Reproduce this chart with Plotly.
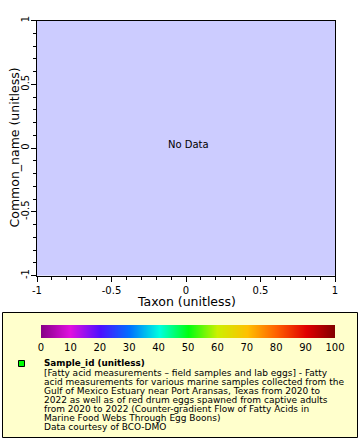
import plotly.graph_objects as go

W, H = 360, 440

# ---- data ----
x_ticks = [-1, -0.5, 0, 0.5, 1]
y_ticks = [-1, -0.5, 0, 0.5, 1]
x_tick_labels = ["-1", "-0.5", "0", "0.5", "1"]
y_tick_labels = ["-1", "-0.5", "0", "0.5", "1"]
sample_x = []          # no data
sample_y = []
sample_id = []
cbar_ticks = [0, 10, 20, 30, 40, 50, 60, 70, 80, 90, 100]
x_title = "Taxon (unitless)"
y_title = "Common_name (unitless)"
legend_title = "Sample_id (unitless)"
legend_lines = [
    "[Fatty acid measurements \u2013 field samples and lab eggs] - Fatty",
    "acid measurements for various marine samples collected from the",
    "Gulf of Mexico Estuary near Port Aransas, Texas from 2020 to",
    "2022 as well as of red drum eggs spawned from captive adults",
    "from 2020 to 2022 (Counter-gradient Flow of Fatty Acids in",
    "Marine Food Webs Through Egg Boons)",
    "Data courtesy of BCO-DMO",
]

colorscale = [
    [0.0, "#880088"], [0.1, "#e010e0"], [0.2, "#4c10ff"], [0.3, "#0070ff"],
    [0.4, "#00ffe0"], [0.5, "#00ff10"], [0.6, "#ccf000"], [0.7, "#ffc000"],
    [0.8, "#ff6000"], [0.9, "#e00000"], [1.0, "#800000"],
]

FONT = "DejaVu Sans"

def px(xp):
    return xp / W

def py(yp):
    return 1 - yp / H

fig = go.Figure()

# empty data series
fig.add_trace(go.Scatter(
    x=sample_x, y=sample_y, mode="markers",
    marker=dict(color=sample_id, cmin=cbar_ticks[0], cmax=cbar_ticks[-1],
                colorscale=colorscale),
    showlegend=False, hoverinfo="skip", xaxis="x", yaxis="y",
))

# colour scale strip
fig.add_trace(go.Heatmap(
    z=[cbar_ticks], x=cbar_ticks, y=[0], zmin=cbar_ticks[0], zmax=cbar_ticks[-1],
    colorscale=colorscale, zsmooth="best", showscale=False,
    hoverinfo="skip", xaxis="x2", yaxis="y2",
))

axis_common = dict(
    range=[-1, 1], showgrid=False, zeroline=False, showline=True,
    linecolor="black", linewidth=1, mirror=True, ticks="outside",
    ticklen=5, tickcolor="black", tickmode="array", automargin=False,
    tickfont=dict(family=FONT, size=10, color="black"),
    minor=dict(dtick=0.1, ticks="outside", ticklen=3, tickcolor="black", showgrid=False),
)

fig.update_layout(
    width=W, height=H, autosize=False, margin=dict(l=0, r=0, t=0, b=0, pad=0),
    paper_bgcolor="white", plot_bgcolor="#ccccff",
    font=dict(family=FONT, color="black"),
    xaxis=dict(axis_common, domain=[px(37), px(335)], tickvals=x_ticks,
               ticktext=x_tick_labels),
    yaxis=dict(axis_common, domain=[py(275.5), py(20.5)], tickvals=y_ticks,
               ticktext=y_tick_labels, tickangle=-90, ticklabelstandoff=-2),
    xaxis2=dict(domain=[px(41), px(335)], range=[cbar_ticks[0], cbar_ticks[-1]],
                anchor="y2", showgrid=False, zeroline=False, showline=False,
                ticks="", tickmode="array", tickvals=cbar_ticks, automargin=False,
                ticktext=[str(v) for v in cbar_ticks], ticklabelstandoff=2,
                tickfont=dict(family=FONT, size=10, color="black"), fixedrange=True),
    yaxis2=dict(domain=[py(338), py(325)], range=[-0.5, 0.5], anchor="x2",
                visible=False, fixedrange=True, automargin=False),
    showlegend=False,
)

# axis titles
fig.add_annotation(x=px(186), y=py(301.5), xref="paper", yref="paper", text=x_title,
                   showarrow=False, xanchor="center", yanchor="middle",
                   font=dict(family=FONT, size=12.5, color="black"))
fig.add_annotation(x=px(13.5), y=py(148), xref="paper", yref="paper", text=y_title,
                   showarrow=False, xanchor="center", yanchor="middle", textangle=-90,
                   font=dict(family=FONT, size=12.5, color="black"))

# "No Data" label
fig.add_annotation(x=0, y=0, xref="x", yref="y", text="No Data", showarrow=False,
                   yshift=4, xshift=2, font=dict(family=FONT, size=10, color="black"))

# legend box
fig.add_shape(type="rect", xref="paper", yref="paper",
              x0=px(2.5), x1=px(357.5), y0=py(437.5), y1=py(312.5),
              fillcolor="#ffffcc", line=dict(color="black", width=1), layer="below")
# legend marker
fig.add_shape(type="rect", xref="paper", yref="paper",
              x0=px(18.5), x1=px(24.5), y0=py(366.5), y1=py(360.5),
              fillcolor="#00ff00", line=dict(color="black", width=1))

fig.add_annotation(x=px(42), y=py(363), xref="paper", yref="paper",
                   text="<b>" + legend_title + "</b>", showarrow=False,
                   xanchor="left", yanchor="middle",
                   font=dict(family=FONT, size=8.8, color="black"))
for i, line in enumerate(legend_lines):
    fig.add_annotation(x=px(42), y=py(372.5 + 9.1 * i), xref="paper", yref="paper",
                       text=line, showarrow=False, xanchor="left", yanchor="middle",
                       font=dict(family=FONT, size=9, color="black"))

fig.write_html("out.html", config={"displayModeBar": False, "responsive": False},
               post_script="document.body.style.margin='0';document.body.style.overflow='hidden';")
